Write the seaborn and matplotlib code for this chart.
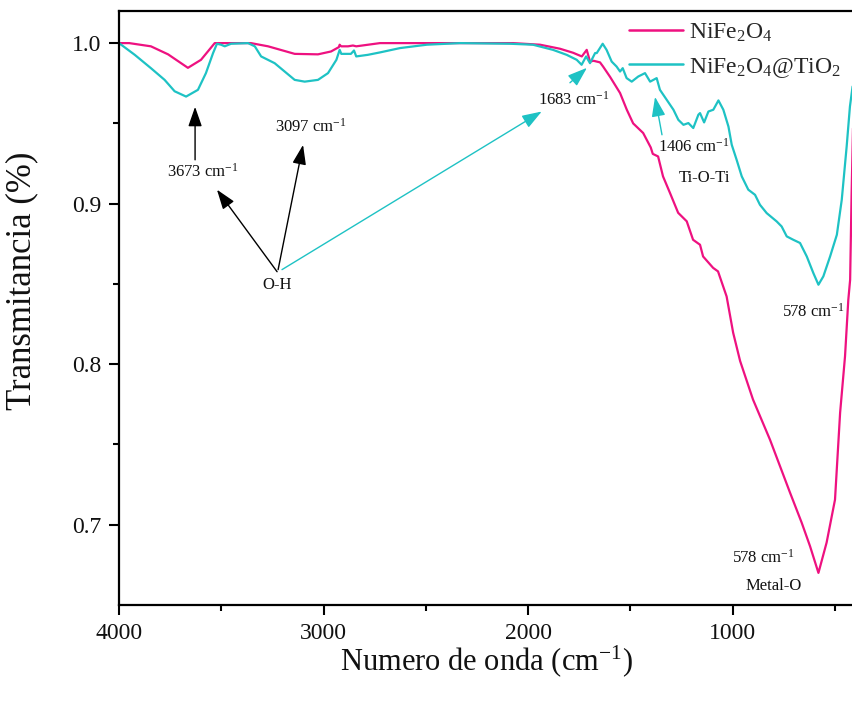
import numpy as np
import pandas as pd
import matplotlib
matplotlib.use("Agg")
import matplotlib.pyplot as plt
import seaborn as sns

# ---- data ----
w_ni = [4000, 3950, 3844, 3760, 3663, 3599, 3532, 3355, 3271, 3141, 3027, 2963, 2925, 2921, 2914,
        2880, 2856, 2840, 2782, 2724, 2073, 1941, 1844, 1780, 1737, 1713, 1697, 1680, 1648, 1633,
        1599, 1550, 1517, 1486, 1437, 1400, 1390, 1364, 1340, 1306, 1266, 1224, 1193, 1159, 1144,
        1095, 1071, 1029, 997, 963, 900, 817, 719, 662, 621, 580, 540, 499, 474, 450, 434, 425,
        418, 413, 411]
t_ni = [1.000, 1.000, 0.998, 0.993, 0.9846, 0.9896, 1.000, 1.000, 0.998, 0.9933, 0.993, 0.9948,
        0.9975, 0.999, 0.998, 0.998, 0.9985, 0.998, 0.999, 1.000, 1.000, 0.999, 0.9965, 0.994,
        0.9917, 0.9958, 0.9885, 0.9890, 0.9880, 0.9854, 0.979, 0.9689, 0.9585, 0.950, 0.944,
        0.935, 0.931, 0.9294, 0.917, 0.9067, 0.8943, 0.889, 0.8775, 0.8744, 0.8671, 0.860,
        0.8578, 0.8422, 0.8196, 0.802, 0.778, 0.753, 0.720, 0.7013, 0.6866, 0.670, 0.6889,
        0.7156, 0.7698, 0.8049, 0.840, 0.8526, 0.905, 0.935, 0.947]

w_ti = [4000, 3923, 3844, 3777, 3728, 3672, 3614, 3575, 3540, 3521, 3501, 3483, 3452, 3369, 3336,
        3305, 3239, 3190, 3141, 3092, 3027, 2978, 2937, 2921, 2913, 2866, 2851, 2840, 2783, 2724,
        2626, 2495, 2333, 2088, 1976, 1878, 1811, 1762, 1738, 1716, 1697, 1672, 1664, 1635, 1616,
        1591, 1567, 1550, 1537, 1518, 1493, 1461, 1428, 1403, 1371, 1355, 1322, 1289, 1265, 1240,
        1216, 1192, 1167, 1159, 1139, 1118, 1094, 1069, 1045, 1020, 1004, 980, 955, 923, 890,
        866, 833, 784, 760, 735, 703, 670, 637, 605, 580, 556, 523, 490, 466, 442, 426, 413]
t_ti = [1.000, 0.9927, 0.9844, 0.9771, 0.970, 0.9667, 0.9709, 0.9813, 0.9938, 0.9996, 0.999,
        0.998, 0.9996, 1.000, 0.998, 0.9917, 0.9875, 0.9823, 0.9771, 0.976, 0.9771, 0.9813,
        0.9896, 0.9958, 0.9933, 0.9933, 0.9954, 0.9917, 0.9927, 0.9942, 0.9969, 0.999, 1.000,
        0.9996, 0.999, 0.9958, 0.9927, 0.9896, 0.9865, 0.9917, 0.9875, 0.9938, 0.9938, 0.9996,
        0.9958, 0.9885, 0.9854, 0.9823, 0.9844, 0.9782, 0.976, 0.9792, 0.9813, 0.976, 0.9782,
        0.9709, 0.9647, 0.9585, 0.9522, 0.9491, 0.9502, 0.9471, 0.9554, 0.9564, 0.9506, 0.9574,
        0.9585, 0.9643, 0.9585, 0.948, 0.9367, 0.9273, 0.917, 0.9087, 0.9055, 0.8993, 0.8941,
        0.8889, 0.8858, 0.8796, 0.8775, 0.8755, 0.8671, 0.8568, 0.8495, 0.8547, 0.8671, 0.8806,
        0.9024, 0.9356, 0.9605, 0.973]

series_names = [r"NiFe$_2$O$_4$", r"NiFe$_2$O$_4$@TiO$_2$"]
series_colors = ["#EE1180", "#1EC2C4"]
x_ticks = [4000, 3000, 2000, 1000]
y_ticks = [0.7, 0.8, 0.9, 1.0]

df = pd.concat([
    pd.DataFrame({"w": w_ni, "T": t_ni, "s": series_names[0]}),
    pd.DataFrame({"w": w_ti, "T": t_ti, "s": series_names[1]}),
], ignore_index=True)

sns.set_theme(style="ticks")
plt.rcParams["font.family"] = ["Liberation Serif", "DejaVu Serif"]
plt.rcParams["mathtext.fontset"] = "custom"
plt.rcParams["mathtext.rm"] = "Liberation Serif"
plt.rcParams["mathtext.it"] = "Liberation Serif:italic"
plt.rcParams["mathtext.bf"] = "Liberation Serif:bold"

fig = plt.figure(figsize=(8.53, 7.01), dpi=100)
ax = fig.add_axes([119 / 853, 96 / 701, 734 / 853, 594 / 701])

sns.lineplot(data=df, x="w", y="T", hue="s", palette=series_colors, estimator=None,
             sort=False, linewidth=1.6, ax=ax)

ax.set_xlim(4000, 411)
ax.set_ylim(0.65, 1.02)
ax.set_xticks(x_ticks)
ax.set_xticks([3500, 2500, 1500, 500], minor=True)
ax.set_yticks(y_ticks)
ax.set_yticks([0.75, 0.85, 0.95], minor=True)
ax.set_yticklabels([f"{v:.1f}" for v in y_ticks])
ax.tick_params(axis="both", which="major", direction="out", length=7, width=1.5,
               labelsize=17, color="black", labelcolor="#111111", pad=6)
ax.tick_params(axis="both", which="minor", direction="out", length=4, width=1.5, color="black")
for side in ["left", "bottom", "top"]:
    ax.spines[side].set_linewidth(1.6)
    ax.spines[side].set_color("black")
ax.spines["right"].set_visible(False)

ax.set_xlabel(r"Numero de onda (cm$^{-1}$)", fontsize=22, color="#111111")
ax.set_ylabel("Transmitancia (%)", fontsize=25, color="#111111")
ax.xaxis.set_label_coords(0.5, -0.065)
ax.yaxis.set_label_coords(-0.11, 0.545)

leg = ax.legend(loc="upper right", bbox_to_anchor=(1.003, 1.006), frameon=False, fontsize=17,
                handlelength=2.3, handletextpad=0.25, labelspacing=0.5, borderaxespad=0.2)
for line in leg.get_lines():
    line.set_linewidth(1.8)

fs = 12
tc = "#111111"
ax.text(3589, 0.9168, r"3673 cm$^{-1}$", fontsize=fs, ha="center", va="baseline", color=tc)
ax.text(3237, 0.9448, r"3097 cm$^{-1}$", fontsize=fs, ha="left", va="baseline", color=tc)
ax.text(3227, 0.8495, "O-H", fontsize=fs, ha="center", va="center", color=tc)
ax.text(1951, 0.9616, r"1683 cm$^{-1}$", fontsize=fs, ha="left", va="baseline", color=tc)
ax.text(1364, 0.9323, r"1406 cm$^{-1}$", fontsize=fs, ha="left", va="baseline", color=tc)
ax.text(1139, 0.9136, "Ti-O-Ti", fontsize=fs, ha="center", va="baseline", color=tc)
ax.text(758, 0.8297, r"578 cm$^{-1}$", fontsize=fs, ha="left", va="baseline", color=tc)
ax.text(1003, 0.6764, r"578 cm$^{-1}$", fontsize=fs, ha="left", va="baseline", color=tc)
ax.text(797, 0.6596, "Metal-O", fontsize=fs, ha="center", va="baseline", color=tc)

def arrow(tail, head, color):
    ax.annotate("", xy=head, xytext=tail,
                arrowprops=dict(arrowstyle="-|>,head_length=1.0,head_width=0.35",
                                color=color, lw=1.0, shrinkA=0, shrinkB=0))

arrow((3628, 0.9273), (3628, 0.9603), "black")
arrow((3222, 0.8589), (3100, 0.9366), "black")
arrow((3227, 0.8576), (3521, 0.9087), "black")
arrow((3203, 0.8589), (1933, 0.9574), "#1EC2C4")
arrow((1795, 0.9753), (1712, 0.9846), "#1EC2C4")
arrow((1345, 0.9429), (1379, 0.9665), "#1EC2C4")

fig.savefig("out.png", dpi=100)
